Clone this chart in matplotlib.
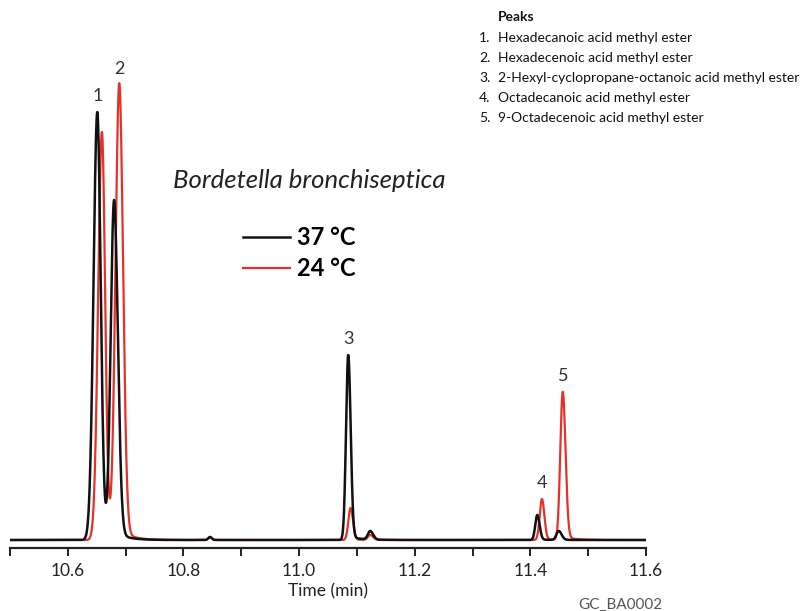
import numpy as np
import matplotlib.pyplot as plt
from matplotlib.ticker import MultipleLocator

# peak table (retention time in min, height in arbitrary units)
black_rt = [10.651, 10.680, 10.846, 11.085, 11.123, 11.412, 11.449]
black_h = [428, 338, 3, 185, 8.5, 25, 9]
black_sl = [0.0065, 0.0058, 0.003, 0.0038, 0.004, 0.0035, 0.004]
black_sr = [0.0058, 0.0065, 0.003, 0.0042, 0.005, 0.004, 0.005]

red_rt = [10.659, 10.689, 10.846, 11.089, 11.123, 11.420, 11.456]
red_h = [408, 455, 3, 32, 5, 41, 148]
red_sl = [0.0065, 0.0065, 0.003, 0.0038, 0.004, 0.0038, 0.0042]
red_sr = [0.0055, 0.0065, 0.003, 0.0042, 0.005, 0.0042, 0.0048]

peak_names = [
    "Hexadecanoic acid methyl ester",
    "Hexadecenoic acid methyl ester",
    "2-Hexyl-cyclopropane-octanoic acid methyl ester",
    "Octadecanoic acid methyl ester",
    "9-Octadecenoic acid methyl ester",
]
# label number -> (time, height) of the peak it sits over
label_pos = [(10.651, 428), (10.689, 455), (11.085, 185), (11.420, 41), (11.456, 148)]


def trace(t, rts, hs, sls, srs, tail=0.02, tau=0.02):
    y = np.zeros_like(t)
    for rt, h, sl, sr in zip(rts, hs, sls, srs):
        d = t - rt
        left = np.exp(-0.5 * (d / sl) ** 2)
        right = (1 - tail) * np.exp(-0.5 * (d / sr) ** 2) + tail * np.exp(-np.clip(d, 0, None) / tau)
        y += h * np.where(d < 0, left, right)
    return y


t = np.linspace(10.5, 11.6, 5000)
y_black = trace(t, black_rt, black_h, black_sl, black_sr)
y_red = trace(t, red_rt, red_h, red_sl, red_sr)

plt.rcParams['font.family'] = ['Lato', 'DejaVu Sans']

fig = plt.figure(figsize=(8.11, 6.11), dpi=100)
ax = fig.add_axes([10 / 811, 63 / 611, 636 / 811, 468 / 611])

red_col = '#e8302a'
blk_col = '#111111'
l_red, = ax.plot(t, y_red, color=red_col, lw=1.6, label='24 °C')
l_blk, = ax.plot(t, y_black, color=blk_col, lw=1.8, label='37 °C')

ax.set_xlim(10.5, 11.6)
ax.set_ylim(-8, 460)
for s in ['left', 'right', 'top']:
    ax.spines[s].set_visible(False)
ax.spines['bottom'].set_linewidth(1.6)
ax.spines['bottom'].set_color('#222222')
ax.set_yticks([])
ax.xaxis.set_major_locator(MultipleLocator(0.2))
ax.xaxis.set_minor_locator(MultipleLocator(0.1))
ax.tick_params(axis='x', which='both', direction='out', length=6, width=1.4, color='#222222')
ax.tick_params(axis='x', which='major', labelsize=12.5, pad=5, labelcolor='#222222')
ax.set_xticks(np.arange(10.6, 11.61, 0.2))
ax.set_xticklabels([f"{v:.1f}" for v in np.arange(10.6, 11.61, 0.2)])
ax.set_xlabel('Time (min)', fontsize=12.5, color='#222222', labelpad=3)

for i, (x, h) in enumerate(label_pos):
    ax.annotate(str(i + 1), (x, h), xytext=(0, 6), textcoords='offset points',
                ha='center', va='bottom', fontsize=13, color='#333333')

fig.text(173 / 811, 1 - 180 / 611, 'Bordetella bronchiseptica', fontsize=18.5,
         style='italic', color='#222222', va='center', ha='left')

ax.legend(handles=[l_blk, l_red], loc='upper left', frameon=False,
          bbox_to_anchor=(243 / 811, 1 - 226 / 611), bbox_transform=fig.transFigure,
          handlelength=2.0, handletextpad=0.3, labelspacing=0.35,
          borderpad=0, borderaxespad=0,
          prop={'family': ['Lato', 'DejaVu Sans'], 'weight': 'bold', 'size': 17})

fig.text(498 / 811, 1 - 17 / 611, 'Peaks', fontsize=10, weight='bold', va='center', color='#111111')
for i, name in enumerate(peak_names):
    yy = 1 - (38 + 20 * i) / 611
    fig.text(479 / 811, yy, f"{i + 1}.", fontsize=10, va='center', color='#111111')
    fig.text(498 / 811, yy, name, fontsize=10, va='center', color='#111111')

fig.text(620 / 811, 1 - 605 / 611, 'GC_BA0002', fontsize=11, color='#555555', ha='center', va='center')

fig.savefig('out.png', dpi=100)
